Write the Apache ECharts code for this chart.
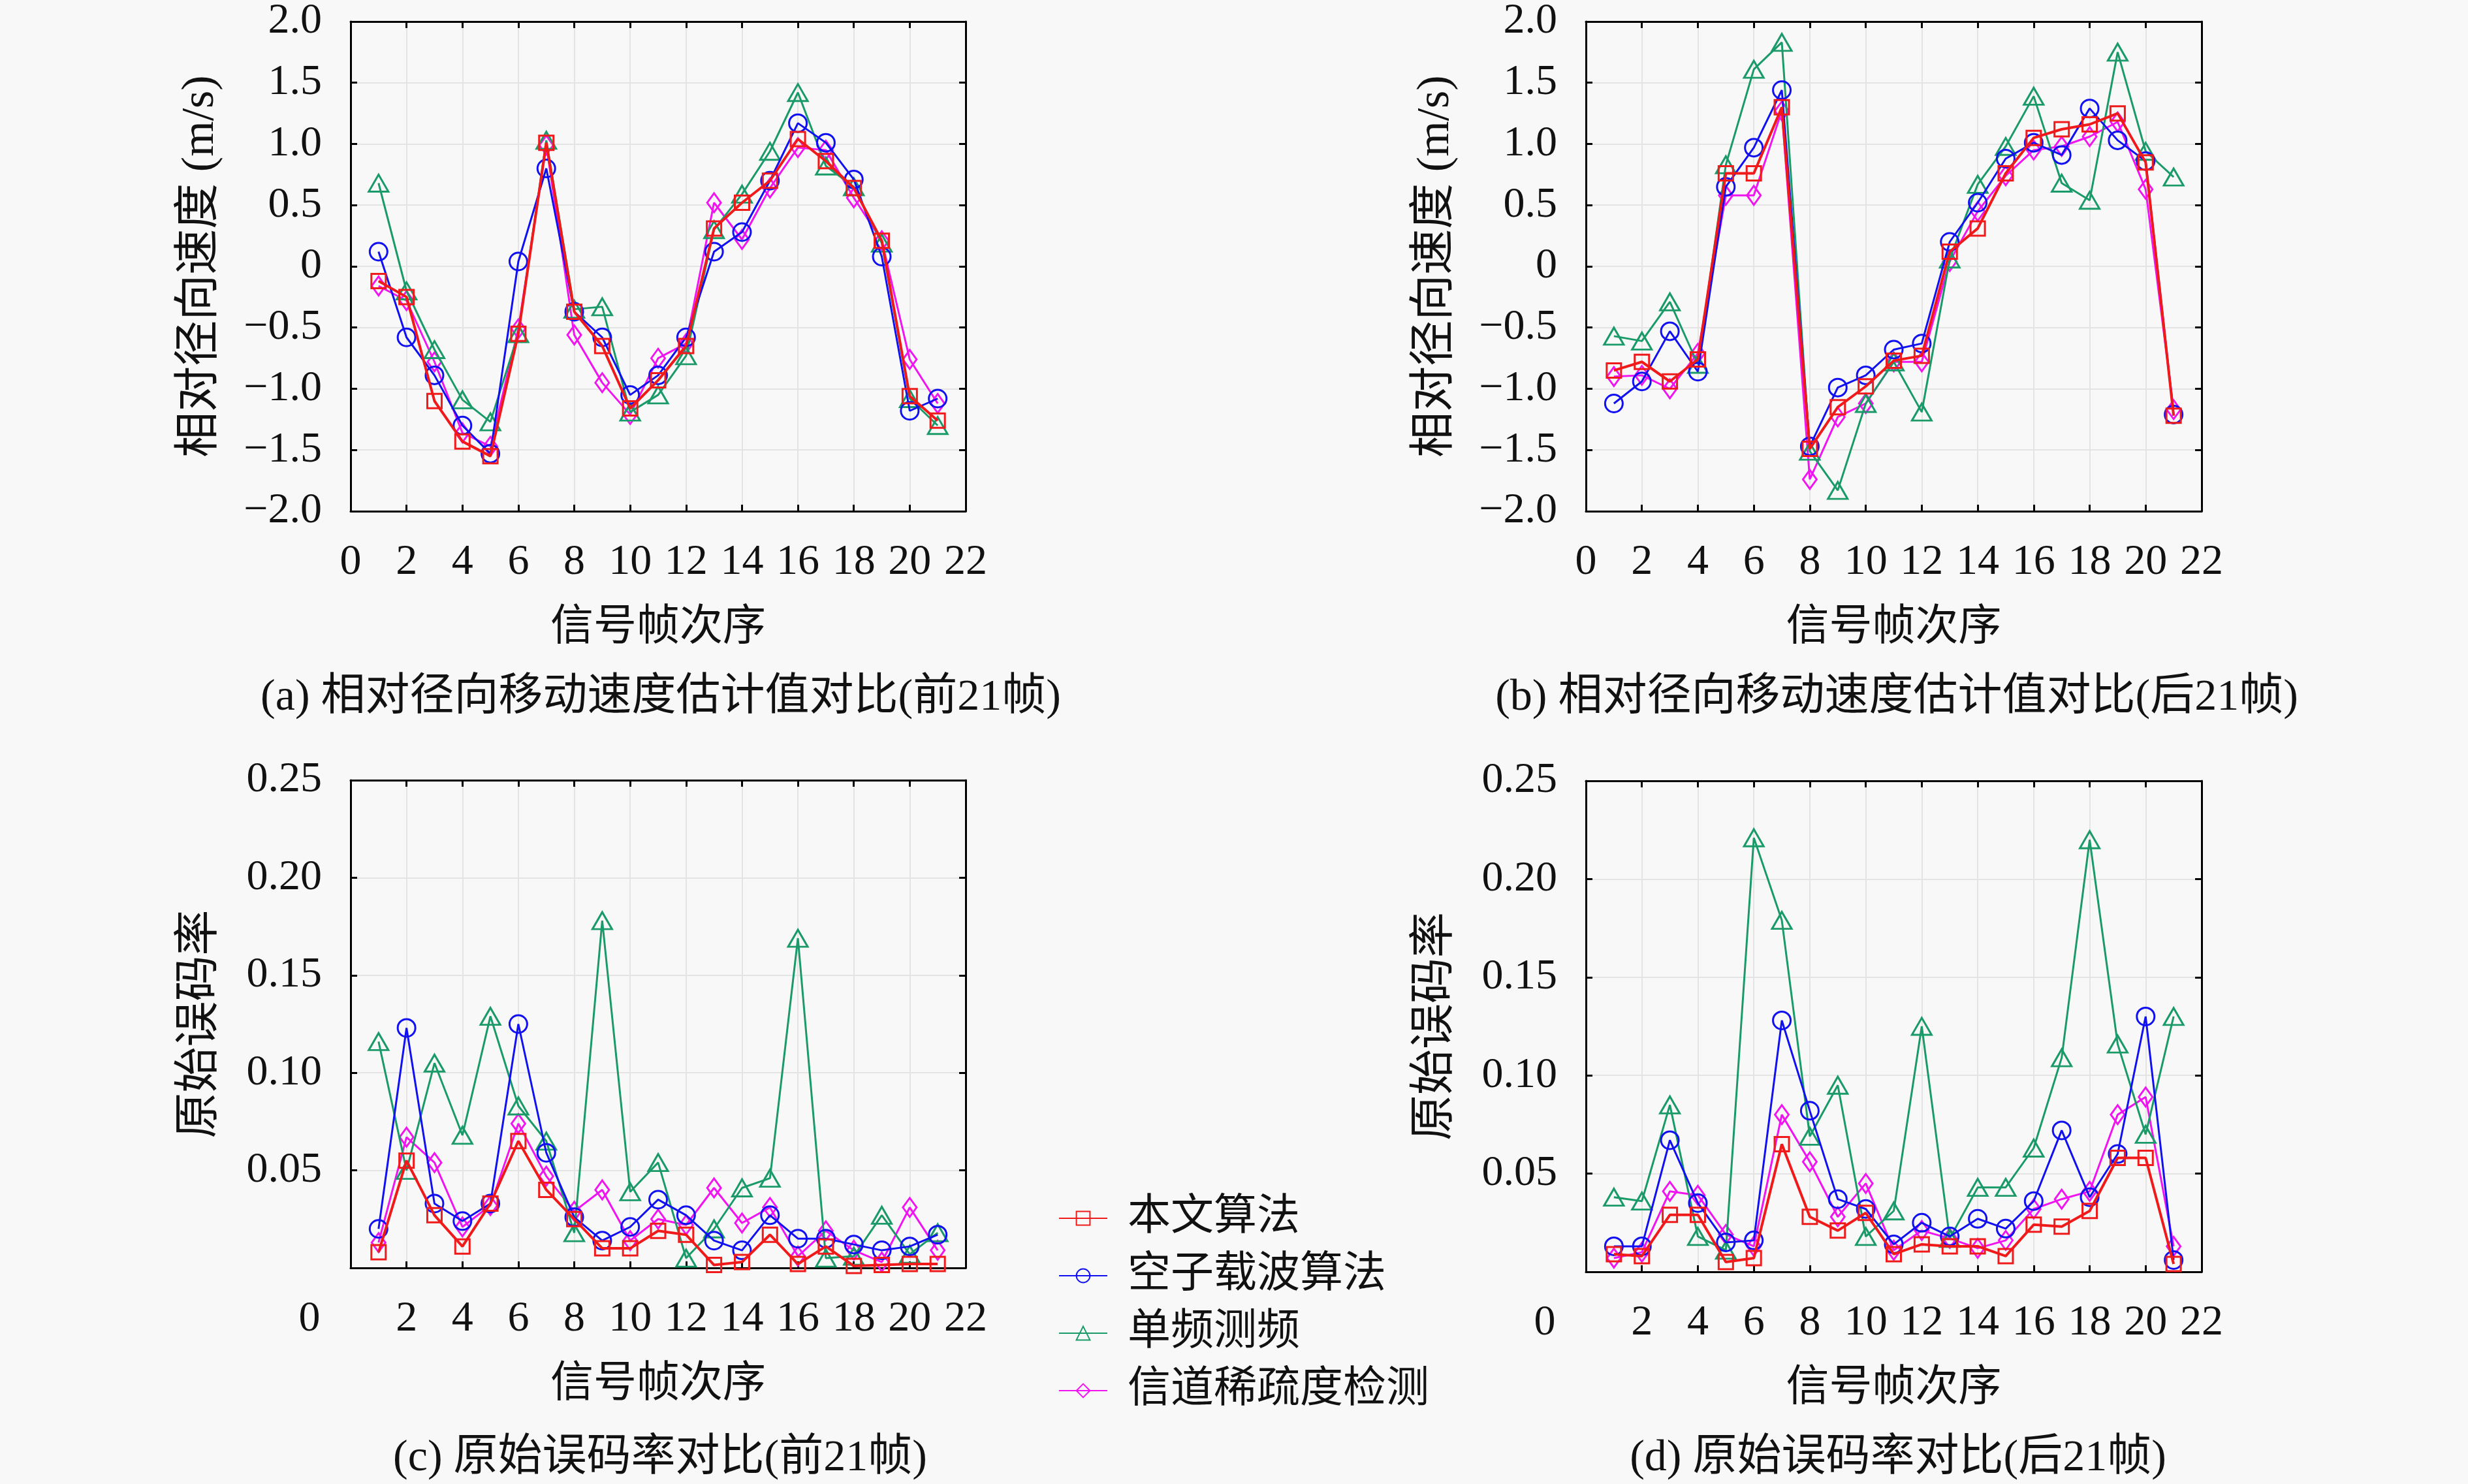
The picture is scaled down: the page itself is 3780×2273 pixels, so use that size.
<!DOCTYPE html>
<html lang="zh">
<head>
<meta charset="utf-8"/>
<title>速度与误码率对比</title>
<script src="https://cdn.jsdelivr.net/npm/echarts@6/dist/echarts.min.js"></script>
<style>
    html, body { margin: 0; padding: 0; background: #f8f8f8; }
    #main { width: 3780px; height: 2273px; }
</style>
</head>
<body>
<div id="main"></div>
<script>
    // 帧序号
    var frames = [1, 2, 3, 4, 5, 6, 7, 8, 9, 10, 11, 12, 13, 14, 15, 16, 17, 18, 19, 20, 21];
    var seriesNames = ['本文算法', '空子载波算法', '单频测频', '信道稀疏度检测'];

    // (a) 相对径向速度 前21帧
    var oursVelA   = [-0.12, -0.25, -1.10, -1.43, -1.55, -0.55, 1.01, -0.37, -0.65, -1.16, -0.93, -0.65, 0.31, 0.52, 0.70, 1.04, 0.86, 0.64, 0.21, -1.06, -1.26];
    var nullVelA   = [0.12, -0.58, -0.89, -1.30, -1.53, 0.04, 0.80, -0.37, -0.58, -1.05, -0.89, -0.58, 0.12, 0.28, 0.70, 1.17, 1.01, 0.71, 0.08, -1.18, -1.08];
    var singleVelA = [0.68, -0.20, -0.68, -1.09, -1.27, -0.55, 1.03, -0.35, -0.33, -1.19, -1.05, -0.73, 0.30, 0.59, 0.94, 1.42, 0.82, 0.65, 0.19, -1.08, -1.30];
    var sparseVelA = [-0.16, -0.28, -0.78, -1.36, -1.47, -0.51, 0.99, -0.56, -0.95, -1.21, -0.75, -0.63, 0.52, 0.22, 0.64, 0.97, 0.95, 0.56, 0.21, -0.76, -1.12];

    // (b) 相对径向速度 后21帧
    var oursVelB   = [-0.85, -0.78, -0.94, -0.76, 0.76, 0.76, 1.30, -1.49, -1.15, -0.98, -0.77, -0.73, 0.12, 0.31, 0.76, 1.05, 1.12, 1.16, 1.25, 0.85, -1.22];
    var nullVelB   = [-1.12, -0.94, -0.53, -0.86, 0.65, 0.97, 1.44, -1.47, -0.99, -0.89, -0.68, -0.63, 0.20, 0.52, 0.88, 1.01, 0.91, 1.29, 1.03, 0.86, -1.21];
    var singleVelB = [-0.57, -0.61, -0.29, -0.80, 0.83, 1.61, 1.83, -1.51, -1.83, -1.12, -0.78, -1.19, 0.06, 0.67, 0.98, 1.39, 0.68, 0.54, 1.75, 0.94, 0.73];
    var sparseVelB = [-0.90, -0.89, -1.00, -0.71, 0.58, 0.58, 1.27, -1.74, -1.23, -1.12, -0.78, -0.78, 0.04, 0.45, 0.74, 0.95, 0.98, 1.06, 1.18, 0.63, -1.17];

    // (c) 原始误码率 前21帧
    var oursBerC   = [0.008, 0.055, 0.027, 0.011, 0.033, 0.065, 0.040, 0.025, 0.010, 0.010, 0.019, 0.017, 0.0015, 0.003, 0.017, 0.002, 0.011, 0.001, 0.0015, 0.002, 0.002];
    var nullBerC   = [0.020, 0.123, 0.033, 0.024, 0.033, 0.125, 0.059, 0.026, 0.014, 0.021, 0.035, 0.027, 0.014, 0.009, 0.027, 0.015, 0.015, 0.012, 0.009, 0.011, 0.017];
    var singleBerC = [0.116, 0.050, 0.105, 0.068, 0.129, 0.083, 0.065, 0.018, 0.178, 0.039, 0.054, 0.005, 0.020, 0.041, 0.046, 0.169, 0.005, 0.006, 0.027, 0.007, 0.018];
    var sparseBerC = [0.013, 0.067, 0.054, 0.021, 0.032, 0.074, 0.047, 0.029, 0.040, 0.014, 0.025, 0.022, 0.041, 0.023, 0.031, 0.006, 0.019, 0.009, 0.003, 0.031, 0.009];

    // (d) 原始误码率 后21帧
    var oursBerD   = [0.009, 0.008, 0.029, 0.029, 0.005, 0.007, 0.065, 0.028, 0.021, 0.030, 0.009, 0.014, 0.013, 0.013, 0.008, 0.024, 0.023, 0.031, 0.058, 0.058, 0.004];
    var nullBerD   = [0.013, 0.013, 0.067, 0.035, 0.015, 0.016, 0.128, 0.082, 0.037, 0.032, 0.014, 0.025, 0.018, 0.027, 0.022, 0.036, 0.072, 0.038, 0.060, 0.130, 0.006];
    var singleBerD = [0.038, 0.036, 0.085, 0.018, 0.011, 0.221, 0.179, 0.069, 0.095, 0.018, 0.031, 0.125, 0.017, 0.043, 0.043, 0.063, 0.109, 0.220, 0.116, 0.070, 0.130];
    var sparseBerD = [0.007, 0.010, 0.041, 0.039, 0.019, 0.013, 0.080, 0.056, 0.028, 0.045, 0.011, 0.021, 0.017, 0.012, 0.016, 0.032, 0.037, 0.041, 0.080, 0.089, 0.013];

    var captions = ['(a) 相对径向移动速度估计值对比(前21帧)', '(b) 相对径向移动速度估计值对比(后21帧)',
                    '(c) 原始误码率对比(前21帧)', '(d) 原始误码率对比(后21帧)'];

    var FONT = '"Liberation Serif", "Noto Sans CJK SC", serif';
    var colors = ['#f01a1a', '#1010f0', '#1a9a68', '#f014f0'];
    var symbols = ['rect', 'circle', 'triangle', 'diamond'];
    var symbolSizes = [[22, 22], 27, [30, 26], [21, 29]];
    var lineWidths = [4, 3, 3, 3];

    var grids = [
        {left: 537, top: 31, width: 942, height: 752},
        {left: 2429, top: 31, width: 943, height: 752},
        {left: 537, top: 1195, width: 942, height: 747},
        {left: 2429, top: 1196, width: 943, height: 752}
    ];
    var captionPos = [[1007, 1030], [2900, 1030], [1006, 2195], [2902, 2195]];

    function velLabel(v) {
        if (v === 0) return '0';
        return (v < 0 ? '\u2212' : '') + Math.abs(v).toFixed(1);
    }
    function berLabel(v) {
        if (v === 0) return '';
        return v.toFixed(2);
    }

    var xAxes = [], yAxes = [], series = [], titles = [];
    var panelData = [
        [oursVelA, nullVelA, singleVelA, sparseVelA],
        [oursVelB, nullVelB, singleVelB, sparseVelB],
        [oursBerC, nullBerC, singleBerC, sparseBerC],
        [oursBerD, nullBerD, singleBerD, sparseBerD]
    ];

    for (var g = 0; g < 4; g++) {
        var isBer = g >= 2;
        // 下方x轴
        xAxes.push({
            type: 'value', gridIndex: g, position: 'bottom', min: 0, max: 22, interval: 2,
            name: '信号帧次序', nameLocation: 'middle', nameGap: 147,
            nameTextStyle: {fontFamily: FONT, fontSize: 66, color: '#111'},
            axisLine: {onZero: false, lineStyle: {color: '#000', width: 3}},
            axisTick: {inside: true, length: 10, lineStyle: {color: '#000', width: 3}},
            axisLabel: {
                margin: 46, fontFamily: FONT, fontSize: 66, color: '#111',
                formatter: isBer ? function (v) { return v === 0 ? '{z|0}' : String(v); } : function (v) { return String(v); },
                rich: {z: {fontFamily: FONT, fontSize: 66, color: '#111', padding: [0, 126, 0, 0]}}
            },
            splitLine: {show: true, lineStyle: {color: '#e4e4e4', width: 2}}
        });
        // 上方x轴 只画刻度
        xAxes.push({
            type: 'value', gridIndex: g, position: 'top', min: 0, max: 22, interval: 2,
            axisLine: {onZero: false, lineStyle: {color: '#000', width: 3}},
            axisTick: {inside: true, length: 10, lineStyle: {color: '#000', width: 3}},
            axisLabel: {show: false}, splitLine: {show: false}
        });
        yAxes.push({
            type: 'value', gridIndex: g, position: 'left',
            min: isBer ? 0 : -2, max: isBer ? 0.25 : 2, interval: isBer ? 0.05 : 0.5,
            name: isBer ? '原始误码率' : '相对径向速度 (m/s)', nameLocation: 'middle', nameGap: 194,
            nameTextStyle: {fontFamily: FONT, fontSize: 70, color: '#111'},
            axisLine: {onZero: false, lineStyle: {color: '#000', width: 3}},
            axisTick: {inside: true, length: 10, lineStyle: {color: '#000', width: 3}},
            axisLabel: {margin: 44, fontFamily: FONT, fontSize: 66, color: '#111', formatter: isBer ? berLabel : velLabel},
            splitLine: {show: true, lineStyle: {color: '#e4e4e4', width: 2}}
        });
        yAxes.push({
            type: 'value', gridIndex: g, position: 'right',
            min: isBer ? 0 : -2, max: isBer ? 0.25 : 2, interval: isBer ? 0.05 : 0.5,
            axisLine: {onZero: false, lineStyle: {color: '#000', width: 3}},
            axisTick: {inside: true, length: 10, lineStyle: {color: '#000', width: 3}},
            axisLabel: {show: false}, splitLine: {show: false}
        });
        titles.push({
            text: captions[g], left: captionPos[g][0], top: captionPos[g][1], textAlign: 'center',
            textStyle: {fontFamily: FONT, fontSize: 68, fontWeight: 'normal', color: '#111'}
        });

        // 画线 红线放最上层
        for (var s = 3; s >= 0; s--) {
            var vals = panelData[g][s];
            var pts = frames.map(function (f, i) { return [f, vals[i]]; });
            series.push({
                name: seriesNames[s], type: 'line', xAxisIndex: g * 2, yAxisIndex: g * 2,
                data: pts, symbol: symbols[s], symbolSize: symbolSizes[s],
                z: 10 - s,
                lineStyle: {color: colors[s], width: lineWidths[s]},
                itemStyle: {color: 'rgba(0,0,0,0)', borderColor: colors[s], borderWidth: 3},
                emphasis: {disabled: true}
            });
        }
    }

    var myChart = echarts.init(document.getElementById('main'));
    var option = {
        backgroundColor: '#f8f8f8',
        animation: false,
        title: titles,
        grid: grids,
        xAxis: xAxes,
        yAxis: yAxes,
        legend: {
            data: seriesNames, orient: 'vertical', left: 1616, top: 1828,
            itemWidth: 74, itemHeight: 26, itemGap: 22,
            textStyle: {fontFamily: FONT, fontSize: 66, color: '#111', lineHeight: 64, padding: [0, 0, 0, 26]}
        },
        series: series
    };
    myChart.setOption(option);
</script>
</body>
</html>
